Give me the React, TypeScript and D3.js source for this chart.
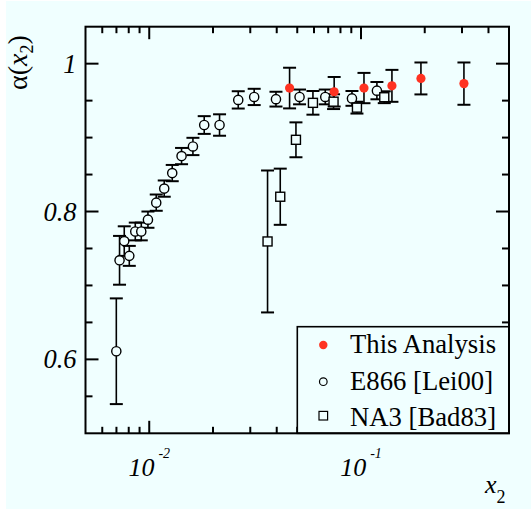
import React from "react";
import * as d3 from "d3";

// ---- data ----
const thisX = [0.046, 0.0747, 0.1033, 0.14, 0.1919, 0.3063];
const thisY = [0.967, 0.962, 0.967, 0.97, 0.98, 0.973];
const thisErr = [0.0275, 0.02, 0.0205, 0.0216, 0.0216, 0.0286];

const e866X = [0.00699, 0.00724, 0.00762, 0.00805, 0.00859, 0.00917, 0.00986, 0.01079, 0.01177, 0.01284, 0.01421, 0.01608, 0.01818, 0.02148, 0.02632, 0.0313, 0.03967, 0.05127, 0.0678, 0.09065, 0.1189];
const e866Y = [0.611, 0.734, 0.76, 0.74, 0.773, 0.773, 0.789, 0.812, 0.831, 0.852, 0.875, 0.888, 0.917, 0.917, 0.951, 0.955, 0.952, 0.955, 0.955, 0.953, 0.9635];
const e866Err = [0.0715, 0.033, 0.02, 0.0135, 0.012, 0.012, 0.011, 0.011, 0.011, 0.011, 0.011, 0.0117, 0.012, 0.0145, 0.0117, 0.011, 0.01, 0.01, 0.01, 0.01, 0.0117];

const na3X = [0.0362, 0.04156, 0.0493, 0.0593, 0.0742, 0.0957, 0.1288];
const na3Y = [0.7595, 0.82, 0.897, 0.947, 0.9486, 0.9405, 0.9546];
const na3Err = [0.096, 0.038, 0.0236, 0.016, 0.01, 0.008, 0.008];

const xMajorTicks = [0.01, 0.1];
const xTickExponents = ["-2", "-1"];
const yMajorTicks = [0.6, 0.8, 1];
const legendLabels = ["This Analysis", "E866 [Lei00]", "NA3 [Bad83]"];

const W = 531;
const H = 509;
const BG = "#f0ffff";
const RED = "#ff3322";
const FONT = '"Liberation Serif", "Times New Roman", "DejaVu Serif", serif';
const tStyle = { fontFamily: FONT };

export default function App() {
  const x = d3.scaleLog().domain([0.005, 0.5]).range([85.5, 509]);
  const y = d3.scaleLinear().domain([0.5, 1.05]).range([433.3, 26.7]);
  const [x0, x1] = x.range();
  const [y0, y1] = y.range();

  const xTicks = x.ticks().filter((v) => v > 0.0051 && v < 0.49);
  const isPow10 = (v: number) => Math.abs(Math.log10(v) - Math.round(Math.log10(v))) < 1e-6;
  const yTicks = d3.range(0, 12).map((i) => +(0.5 + i * 0.05).toFixed(2)).filter((v) => v > 0.5 && v < 1.05);
  const isYMajor = (v: number) => yMajorTicks.some((m) => Math.abs(m - v) < 1e-6);
  const fmt = d3.format("~g");

  const capW = 6.5;
  const errBar = (xs: number[], ys: number[], es: number[], key: string) =>
    xs.map((xv, i) => {
      const cx = x(xv);
      const top = y(ys[i] + es[i]);
      const bot = y(ys[i] - es[i]);
      return (
        <g key={key + i} stroke="#000">
          <line x1={cx} x2={cx} y1={top} y2={bot} strokeWidth={1.6} />
          <line x1={cx - capW} x2={cx + capW} y1={top} y2={top} strokeWidth={2} />
          <line x1={cx - capW} x2={cx + capW} y1={bot} y2={bot} strokeWidth={2} />
        </g>
      );
    });

  const legX = 297.3;
  const legY = 326.7;
  const legRows = [345, 381.7, 415.7];
  const legText = [353, 390, 426];

  return (
    <svg width={W} height={H} style={{ position: "absolute", left: 0, top: 0 }}>
      <rect x={0} y={0} width={W} height={H} fill="#ffffff" />
      <rect x={6} y={1} width={W - 6} height={H - 1} fill={BG} />

      {/* error bars */}
      {errBar(e866X, e866Y, e866Err, "e")}
      {errBar(na3X, na3Y, na3Err, "n")}
      {errBar(thisX, thisY, thisErr, "t")}

      {/* markers */}
      {e866X.map((xv, i) => (
        <circle key={"ec" + i} cx={x(xv)} cy={y(e866Y[i])} r={4.6} fill={BG} stroke="#000" strokeWidth={1.4} />
      ))}
      {na3X.map((xv, i) => (
        <rect key={"nr" + i} x={x(xv) - 4.5} y={y(na3Y[i]) - 4.5} width={9} height={9} fill={BG} stroke="#000" strokeWidth={1.4} />
      ))}
      {thisX.map((xv, i) => (
        <circle key={"tc" + i} cx={x(xv)} cy={y(thisY[i])} r={4.6} fill={RED} />
      ))}

      {/* ticks */}
      <g stroke="#000" strokeWidth={2}>
        {xTicks.map((v, i) => {
          const len = isPow10(v) ? 12.5 : 6.5;
          return (
            <g key={"xt" + i}>
              <line x1={x(v)} x2={x(v)} y1={y0} y2={y0 - len} />
              <line x1={x(v)} x2={x(v)} y1={y1} y2={y1 + len} />
            </g>
          );
        })}
        {yTicks.map((v, i) => {
          const len = isYMajor(v) ? 13 : 7;
          return (
            <g key={"yt" + i}>
              <line x1={x0} x2={x0 + len} y1={y(v)} y2={y(v)} />
              <line x1={x1} x2={x1 - len} y1={y(v)} y2={y(v)} />
            </g>
          );
        })}
      </g>

      {/* legend */}
      <rect x={legX} y={legY} width={x1 - legX} height={y0 - legY} fill={BG} stroke="#000" strokeWidth={1.6} />
      <circle cx={323.3} cy={legRows[0]} r={4.2} fill={RED} />
      <circle cx={323.3} cy={legRows[1]} r={3.8} fill={BG} stroke="#000" strokeWidth={1.2} />
      <rect x={323.3 - 4.3} y={legRows[2] - 4.3} width={8.6} height={8.6} fill={BG} stroke="#000" strokeWidth={1.2} />
      {legendLabels.map((t, i) => (
        <text key={"lg" + i} x={350} y={legText[i]} fontSize={26.7} fill="#000" style={tStyle}>
          {t}
        </text>
      ))}

      {/* frame */}
      <rect x={x0} y={y1} width={x1 - x0} height={y0 - y1} fill="none" stroke="#000" strokeWidth={2} />

      {/* y tick labels */}
      {yMajorTicks.map((v, i) => (
        <text key={"yl" + i} x={76.5} y={y(v) + 9} fontSize={26.5} fontStyle="italic" textAnchor="end" fill="#000" style={tStyle}>
          {fmt(v)}
        </text>
      ))}

      {/* x tick labels */}
      {xMajorTicks.map((v, i) => (
        <text key={"xl" + i} x={x(v)} y={476} fontSize={26} fontStyle="italic" textAnchor="middle" fill="#000" style={tStyle}>
          10
          <tspan dx={4} dy={-18} fontSize={14}>
            {xTickExponents[i]}
          </tspan>
        </text>
      ))}

      {/* axis titles */}
      <text x={485} y={493} fontSize={26} fill="#000" style={tStyle}>
        <tspan fontStyle="italic">x</tspan>
        <tspan fontSize={18} dy={9.5}>2</tspan>
      </text>
      <text transform="translate(27,90) rotate(-90)" fontSize={28} fill="#000" style={tStyle}>
        α(<tspan fontStyle="italic">x</tspan>
        <tspan fontSize={18} dy={6}>2</tspan>
        <tspan dy={-6}>)</tspan>
      </text>
    </svg>
  );
}
